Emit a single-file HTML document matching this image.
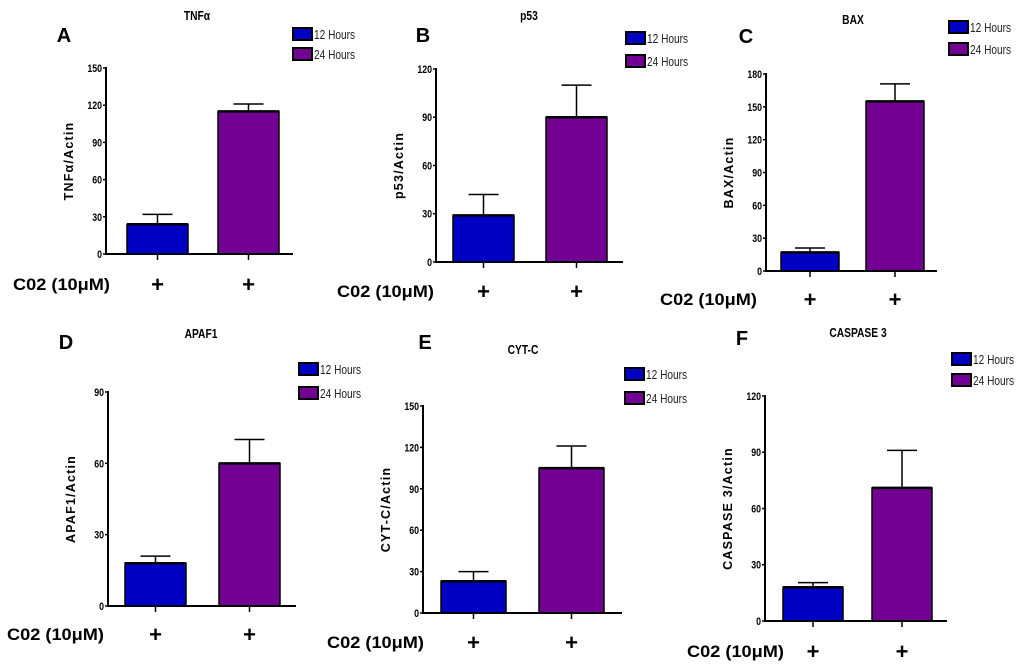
<!DOCTYPE html>
<html><head><meta charset="utf-8"><style>
html,body{margin:0;padding:0;background:#fff;}
svg{display:block;}
text{font-family:"Liberation Sans",Arial,sans-serif;}
</style></head><body>
<svg id="fig" width="1020" height="668" viewBox="0 0 1020 668" xmlns="http://www.w3.org/2000/svg"></svg>
<script>
// ---- data ----
const panelLetters = ["A","B","C","D","E","F"];
const panelTitles = ["TNFα","p53","BAX","APAF1","CYT-C","CASPASE 3"];
const yTitles = ["TNFα/Actin","p53/Actin","BAX/Actin","APAF1/Actin","CYT-C/Actin","CASPASE 3/Actin"];
const seriesNames = ["12 Hours","24 Hours"];
const means12 = [24, 29, 17, 18, 23, 18];
const err12 = [8, 13, 4, 3, 7, 2.5];
const means24 = [115, 90, 155, 60, 105, 71];
const err24 = [6, 20, 16, 10, 16, 20];
const yMaxes = [150, 120, 180, 90, 150, 120];
const yStep = [30, 30, 30, 30, 30, 30];
const treatmentLabel = "C02 (10μM)";

// ---- layout (pixels) ----
const layout = [
 [106,68,254,293,127,218,61,197,20,64,42,293,28,48,284,13],
 [436,69,262,623,453,546,61,529,20,423,42,626,32,55,291,337],
 [766,74,271,937,781,866,58,853,24,746,43,949,21,43,299,660],
 [108,392,606,296,125,219,61,201,338,66,349,299,363,387,634,7],
 [423,406,613,622,441,539,65,523,354,425,349,625,368,392,642,327],
 [765,396,621,947,783,872,60,858,337,742,345,952,353,374,651,687]
];
const C12 = "#0000c4", C24 = "#720092";
const svg = document.getElementById('fig');
const NS = "http://www.w3.org/2000/svg";
function mk(tag, attrs, parent){
  const e = document.createElementNS(NS, tag);
  for (const k in attrs) e.setAttribute(k, attrs[k]);
  (parent||svg).appendChild(e);
  return e;
}
function txt(s, attrs, parent){ const t = mk('text', attrs, parent); t.textContent = s; return t; }

panelTitles.forEach((title, i) => {
  const [ax, yTop, y0, xEnd, b1, b2, bw, tx, ty, lx, ly, legX, legY1, legY2, plusY, labX] = layout[i];
  const g = mk('g', {});
  
  
  const ymax = yMaxes[i];
  const yScale = v => y0 - (v / ymax) * (y0 - yTop);

  const L = txt(panelLetters[i], {x: lx, y: ly, 'font-size': 20, 'font-weight': 'bold', 'text-anchor': 'middle'}, g);
  
  
  const T = txt(title, {x: tx, y: ty, 'font-size': 12.5, 'font-weight': 'bold', 'text-anchor': 'middle', transform: `translate(${tx},0) scale(0.82,1) translate(${-tx},0)`}, g);
  
  

  [legY1, legY2].forEach((ly2, k) => {
    const r = mk('rect', {x: legX, y: ly2, width: 19, height: 12, fill: k ? C24 : C12, stroke: '#000', 'stroke-width': 2}, g);
    
    
    const lt = txt(seriesNames[k], {x: legX + 21, y: ly2 + 11, 'font-size': 13, fill: '#222', transform: `translate(${legX+21},0) scale(0.78,1) translate(${-(legX+21)},0)`}, g);
    
    
  });

  const yAxis = mk('line', {x1: ax, y1: yTop - 1, x2: ax, y2: y0 + 1, stroke: '#000', 'stroke-width': 2}, g);
  
  
  for (let v = 0; v <= ymax; v += yStep[i]) {
    const yy = yScale(v);
    mk('line', {x1: ax - 3, y1: yy, x2: ax, y2: yy, stroke: '#000', 'stroke-width': 1.5}, g);
    const tl = txt(String(v), {x: ax - 4, y: yy + 4, 'font-size': 11, 'font-weight': 'bold', 'text-anchor': 'end', transform: `translate(${ax-4},0) scale(0.8,1) translate(${-(ax-4)},0)`}, g);
    
    
  }
  const ycx = ax - 33, ycy = (yTop + y0) / 2;
  const yt = txt(yTitles[i], {x: ycx, y: ycy, 'font-size': 12.5, 'font-weight': 'bold', 'text-anchor': 'middle', 'letter-spacing': '1.2', transform: `rotate(-90 ${ycx} ${ycy})`}, g);
  
  

  const bars = [[b1, means12[i], err12[i], C12, '12h'], [b2, means24[i], err24[i], C24, '24h']];
  bars.forEach(([bx, m, e, col, nm]) => {
    const top = yScale(m), cx = bx + bw / 2, et = yScale(m + e);
    const el = mk('line', {x1: cx, y1: top, x2: cx, y2: et, stroke: '#000', 'stroke-width': 1.5}, g);
    
    
    const cap = mk('line', {x1: cx - 15, y1: et, x2: cx + 15, y2: et, stroke: '#000', 'stroke-width': 1.5}, g);
    
    
    const r = mk('rect', {x: bx, y: top, width: bw, height: y0 - top, fill: col, stroke: '#000', 'stroke-width': 1.5}, g);
    
    
    mk('line', {x1: bx, y1: top, x2: bx + bw, y2: top, stroke: '#000', 'stroke-width': 2.5}, g);
    mk('line', {x1: cx, y1: y0, x2: cx, y2: y0 + 6, stroke: '#000', 'stroke-width': 1.5}, g);
    const p = txt('+', {x: cx, y: plusY + 8, 'font-size': 22, 'font-weight': 'bold', 'text-anchor': 'middle'}, g);
    
    
  });

  const xAxis = mk('line', {x1: ax - 1, y1: y0, x2: xEnd, y2: y0, stroke: '#000', 'stroke-width': 2}, g);
  
  

  const tl = txt(treatmentLabel, {x: labX, y: plusY + 6, 'font-size': 16.5, 'font-weight': 'bold', textLength: 97, lengthAdjust: 'spacingAndGlyphs'}, g);
  
  
});
</script>
</body></html>
